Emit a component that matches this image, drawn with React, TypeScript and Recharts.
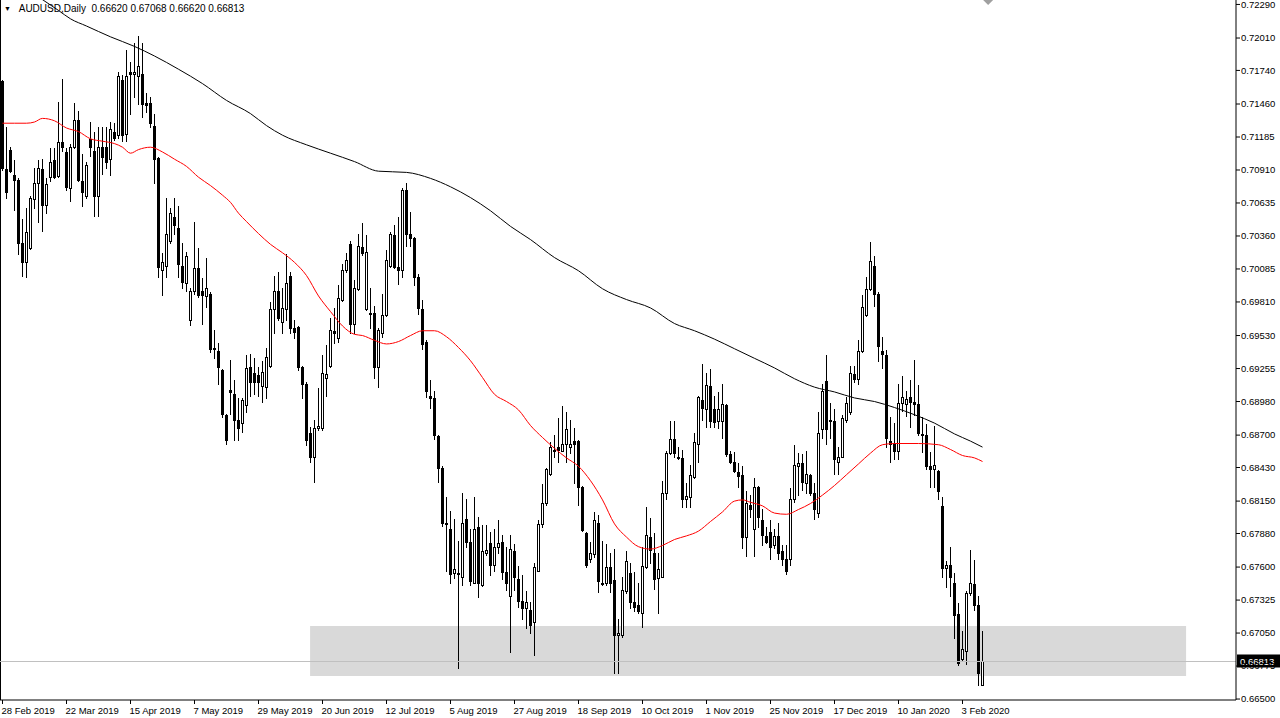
import React from 'react';
import { ComposedChart, Bar, Line, XAxis, YAxis, ReferenceArea, ReferenceLine, ReferenceDot } from 'recharts';

type Ohlc = [number, number, number, number]; // open, high, low, close

// daily AUDUSD bars, 28 Feb 2019 onwards
const barsPart1: Ohlc[] = [
  [0.7165, 0.7166, 0.7091, 0.7093], [0.7092, 0.7127, 0.7068, 0.7073], [0.7108, 0.711, 0.7089, 0.709], [0.7087, 0.7099, 0.7058, 0.7083],
  [0.7083, 0.7084, 0.7021, 0.703], [0.703, 0.705, 0.7003, 0.7014], [0.7014, 0.7059, 0.7002, 0.7039], [0.7026, 0.7069, 0.7025, 0.7068],
  [0.7067, 0.7093, 0.7059, 0.708], [0.708, 0.7099, 0.7048, 0.7093], [0.7092, 0.71, 0.704, 0.7062], [0.7062, 0.7084, 0.7055, 0.7079],
  [0.7085, 0.7109, 0.7082, 0.7098], [0.7099, 0.7109, 0.7084, 0.7085], [0.7086, 0.7148, 0.7085, 0.7114], [0.7114, 0.7167, 0.7107, 0.711],
  [0.7106, 0.7109, 0.7074, 0.7077], [0.7076, 0.7113, 0.7065, 0.711], [0.711, 0.7147, 0.7109, 0.7133], [0.7133, 0.714, 0.7082, 0.7083],
  [0.7082, 0.7104, 0.7061, 0.7073], [0.7069, 0.7098, 0.7068, 0.7095], [0.7117, 0.7131, 0.7103, 0.711], [0.7107, 0.7123, 0.7053, 0.7069],
  [0.7069, 0.7127, 0.7053, 0.711], [0.711, 0.7127, 0.7088, 0.7102], [0.711, 0.7127, 0.7093, 0.7098], [0.71, 0.7131, 0.7087, 0.7125],
  [0.7123, 0.713, 0.7116, 0.7118], [0.712, 0.7173, 0.7118, 0.7169], [0.7166, 0.717, 0.7115, 0.712], [0.7121, 0.7191, 0.7115, 0.7169],
  [0.7173, 0.7181, 0.7138, 0.7171], [0.7171, 0.7197, 0.7152, 0.7173], [0.7169, 0.7203, 0.7146, 0.7178], [0.7171, 0.7197, 0.7135, 0.7146],
  [0.7147, 0.7155, 0.7139, 0.7145], [0.7147, 0.7152, 0.7127, 0.713], [0.7128, 0.7138, 0.708, 0.71], [0.7101, 0.7102, 0.7002, 0.701],
  [0.7008, 0.7022, 0.6987, 0.7014], [0.7011, 0.7068, 0.7002, 0.7038], [0.7032, 0.7059, 0.703, 0.7055], [0.7052, 0.7068, 0.7038, 0.7045],
  [0.7043, 0.7061, 0.7002, 0.7013], [0.7011, 0.703, 0.6993, 0.6998], [0.6997, 0.7023, 0.699, 0.7019], [0.6966, 0.6993, 0.6962, 0.699],
  [0.699, 0.7048, 0.6988, 0.7009], [0.7009, 0.7026, 0.6985, 0.6987], [0.699, 0.7001, 0.6963, 0.6987], [0.6986, 0.7018, 0.6977, 0.6993],
  [0.6988, 0.6989, 0.6939, 0.6942], [0.6943, 0.6958, 0.6934, 0.6942], [0.694, 0.6947, 0.6913, 0.6927], [0.6924, 0.6925, 0.6885, 0.6888],
  [0.6887, 0.6888, 0.6863, 0.6866], [0.6908, 0.6933, 0.6888, 0.6906], [0.6904, 0.6916, 0.6866, 0.6883], [0.6883, 0.6901, 0.6866, 0.6876],
  [0.688, 0.6901, 0.6873, 0.6899], [0.6895, 0.6937, 0.6889, 0.6926],
];

const barsPart2: Ohlc[] = [
  [0.6927, 0.6938, 0.6903, 0.6914], [0.6922, 0.6934, 0.6904, 0.6914], [0.692, 0.6927, 0.6903, 0.6914], [0.6911, 0.6932, 0.6898, 0.6923],
  [0.691, 0.6943, 0.6901, 0.6935], [0.6928, 0.6981, 0.6927, 0.6975], [0.6975, 0.7003, 0.6955, 0.699], [0.699, 0.7006, 0.6966, 0.6968],
  [0.6964, 0.6993, 0.6955, 0.6976], [0.6975, 0.7021, 0.6966, 0.6997], [0.7003, 0.7006, 0.6955, 0.6959], [0.6959, 0.6966, 0.6951, 0.6956],
  [0.696, 0.6961, 0.6924, 0.6927], [0.6927, 0.6928, 0.6901, 0.6913], [0.6913, 0.6914, 0.6862, 0.6866], [0.6872, 0.6877, 0.6848, 0.6852],
  [0.6852, 0.6883, 0.6831, 0.6876], [0.6876, 0.6909, 0.6874, 0.6878], [0.6876, 0.6937, 0.6874, 0.6922], [0.6918, 0.6945, 0.6903, 0.6921],
  [0.6928, 0.6968, 0.6927, 0.6958], [0.6957, 0.6976, 0.6947, 0.6955], [0.6951, 0.6995, 0.6948, 0.6984], [0.6983, 0.7013, 0.6982, 0.7008],
  [0.7008, 0.7022, 0.7006, 0.7016], [0.7029, 0.7032, 0.6955, 0.6963], [0.6963, 0.6999, 0.6955, 0.6993], [0.6992, 0.7038, 0.6991, 0.7028],
  [0.7027, 0.7047, 0.702, 0.7022], [0.6975, 0.7037, 0.6974, 0.7023], [0.6972, 0.6993, 0.6959, 0.6971], [0.6972, 0.6978, 0.6918, 0.6927],
  [0.6927, 0.6959, 0.691, 0.6958], [0.6955, 0.6988, 0.6952, 0.697], [0.697, 0.7024, 0.6969, 0.7016], [0.7011, 0.7039, 0.701, 0.7038],
  [0.7037, 0.7045, 0.7009, 0.701], [0.701, 0.7052, 0.6996, 0.7008], [0.7008, 0.7076, 0.7002, 0.7074], [0.7074, 0.708, 0.7028, 0.7038],
  [0.7038, 0.7056, 0.7028, 0.7034], [0.7034, 0.7035, 0.6995, 0.7002], [0.7002, 0.7004, 0.6971, 0.6976], [0.6975, 0.6983, 0.6942, 0.6946],
  [0.6948, 0.6949, 0.6902, 0.6907], [0.6903, 0.6916, 0.6893, 0.6901], [0.6901, 0.6907, 0.6867, 0.687], [0.6869, 0.687, 0.6831, 0.6843],
  [0.6843, 0.6844, 0.6794, 0.6797], [0.6797, 0.6818, 0.6757, 0.6796], [0.6792, 0.6807, 0.6747, 0.6754], [0.6755, 0.68, 0.6751, 0.6758],
  [0.6755, 0.6782, 0.6676, 0.6754], [0.6752, 0.6822, 0.6745, 0.6797], [0.68, 0.6817, 0.6777, 0.6781], [0.6781, 0.6792, 0.6745, 0.6748],
  [0.6747, 0.6818, 0.6747, 0.6792], [0.6793, 0.6802, 0.6735, 0.6747], [0.6745, 0.6795, 0.6744, 0.6773], [0.6772, 0.6795, 0.677, 0.6774],
  [0.678, 0.6789, 0.6753, 0.6762], [0.6762, 0.6792, 0.6757, 0.6777],
];

const barsPart3: Ohlc[] = [
  [0.6777, 0.6799, 0.6772, 0.678], [0.6781, 0.6787, 0.675, 0.6756], [0.6756, 0.6777, 0.6741, 0.6747], [0.6736, 0.6787, 0.6689, 0.6775],
  [0.6773, 0.6779, 0.6741, 0.6752], [0.675, 0.6761, 0.6727, 0.6732], [0.6732, 0.6753, 0.6717, 0.6726], [0.6726, 0.674, 0.6709, 0.6731],
  [0.6724, 0.6731, 0.6705, 0.6712], [0.6714, 0.6763, 0.6687, 0.676], [0.6757, 0.6799, 0.6757, 0.6796], [0.6796, 0.6829, 0.6793, 0.6813],
  [0.6813, 0.6843, 0.6812, 0.6842], [0.6838, 0.6864, 0.6837, 0.686], [0.6857, 0.687, 0.6852, 0.6858], [0.686, 0.6884, 0.6848, 0.6858],
  [0.6857, 0.6894, 0.6857, 0.6863], [0.6863, 0.6889, 0.6848, 0.6875], [0.686, 0.6883, 0.6855, 0.6863], [0.6865, 0.6876, 0.683, 0.6863],
  [0.6865, 0.6866, 0.6812, 0.6827], [0.6827, 0.6828, 0.679, 0.6791], [0.6788, 0.6789, 0.676, 0.6762], [0.6767, 0.6781, 0.6764, 0.6772],
  [0.6771, 0.6806, 0.6768, 0.6799], [0.6797, 0.6803, 0.6739, 0.6748], [0.6747, 0.6782, 0.6745, 0.6746], [0.6747, 0.6779, 0.6745, 0.676],
  [0.676, 0.6772, 0.6739, 0.6747], [0.6749, 0.6775, 0.6672, 0.6703], [0.6703, 0.6717, 0.6672, 0.6705], [0.6703, 0.6752, 0.6702, 0.6741],
  [0.674, 0.6773, 0.6738, 0.6765], [0.6755, 0.6763, 0.6726, 0.6731], [0.6731, 0.6756, 0.6723, 0.6727], [0.6728, 0.6747, 0.6722, 0.6723],
  [0.6722, 0.6777, 0.671, 0.6761], [0.676, 0.681, 0.6759, 0.6787], [0.6785, 0.6801, 0.6763, 0.6774], [0.6772, 0.6788, 0.6742, 0.675],
  [0.6751, 0.6772, 0.6722, 0.6758], [0.6752, 0.6832, 0.6752, 0.6822], [0.6822, 0.6857, 0.6817, 0.6855], [0.6855, 0.6882, 0.6854, 0.6867],
  [0.6867, 0.6882, 0.6852, 0.6855], [0.6852, 0.686, 0.685, 0.6851], [0.6851, 0.6858, 0.681, 0.6817], [0.6817, 0.683, 0.681, 0.6819],
  [0.6818, 0.6845, 0.681, 0.6837], [0.6835, 0.6872, 0.6834, 0.6864], [0.6863, 0.6903, 0.6848, 0.6902], [0.6899, 0.6929, 0.6883, 0.6893],
  [0.6892, 0.6922, 0.6877, 0.6912], [0.6911, 0.6925, 0.6877, 0.6882], [0.6892, 0.6903, 0.6877, 0.6881], [0.6882, 0.6906, 0.6876, 0.6892],
  [0.6882, 0.6913, 0.6868, 0.6896], [0.6895, 0.6896, 0.6853, 0.6854], [0.6854, 0.6857, 0.6847, 0.6848], [0.6848, 0.6856, 0.6839, 0.684],
  [0.6839, 0.6847, 0.6827, 0.6836], [0.6837, 0.6844, 0.6776, 0.6785],
];

const barsPart4: Ohlc[] = [
  [0.6785, 0.6823, 0.6769, 0.6813], [0.6812, 0.682, 0.6802, 0.6808], [0.6792, 0.6834, 0.6769, 0.6827], [0.6827, 0.6828, 0.6793, 0.6802],
  [0.6799, 0.6808, 0.6778, 0.6787], [0.6786, 0.6793, 0.678, 0.6781], [0.6789, 0.6799, 0.6767, 0.6777], [0.6778, 0.6792, 0.6776, 0.6786],
  [0.6786, 0.6797, 0.6767, 0.6772], [0.6773, 0.6778, 0.6762, 0.6767], [0.6767, 0.6778, 0.6754, 0.6757], [0.6767, 0.6826, 0.6762, 0.6817],
  [0.6817, 0.6862, 0.6814, 0.6845], [0.6844, 0.6855, 0.682, 0.6847], [0.6847, 0.6854, 0.6824, 0.6831], [0.683, 0.6857, 0.6822, 0.6838],
  [0.6837, 0.6838, 0.682, 0.6822], [0.6822, 0.683, 0.68, 0.6808], [0.6805, 0.6889, 0.6802, 0.6872], [0.6875, 0.6913, 0.6868, 0.6907],
  [0.6915, 0.6937, 0.6863, 0.6875], [0.6883, 0.6897, 0.6868, 0.6882], [0.6882, 0.6892, 0.6838, 0.685], [0.6848, 0.686, 0.6838, 0.6852],
  [0.6852, 0.6887, 0.6852, 0.6884], [0.6883, 0.6902, 0.6881, 0.6897], [0.6889, 0.6928, 0.6888, 0.6922], [0.6921, 0.6928, 0.6914, 0.6917],
  [0.6917, 0.6949, 0.6913, 0.694], [0.694, 0.6987, 0.6939, 0.6977], [0.697, 0.7002, 0.6969, 0.6992], [0.6992, 0.7031, 0.6991, 0.7015],
  [0.7011, 0.7019, 0.6978, 0.6988], [0.6988, 0.6989, 0.6932, 0.6944], [0.694, 0.6952, 0.6926, 0.6938], [0.6937, 0.6941, 0.686, 0.6868],
  [0.6865, 0.6885, 0.6848, 0.6863], [0.6863, 0.688, 0.685, 0.6857], [0.6857, 0.6913, 0.685, 0.6897], [0.6897, 0.6919, 0.689, 0.6902],
  [0.6896, 0.6907, 0.6886, 0.69], [0.6902, 0.6916, 0.6877, 0.6898], [0.6898, 0.6933, 0.6887, 0.6896], [0.6896, 0.6912, 0.687, 0.6872],
  [0.6871, 0.6885, 0.6856, 0.687], [0.687, 0.6879, 0.6842, 0.6844], [0.6844, 0.6856, 0.6827, 0.6842], [0.6842, 0.6878, 0.6827, 0.6845],
  [0.684, 0.6841, 0.6817, 0.6823], [0.6811, 0.6818, 0.6752, 0.6759], [0.6759, 0.6765, 0.6743, 0.6762], [0.6762, 0.6777, 0.6736, 0.6752],
  [0.6747, 0.6755, 0.6701, 0.672], [0.6721, 0.673, 0.6678, 0.668], [0.6683, 0.6707, 0.6682, 0.6692], [0.669, 0.674, 0.6679, 0.6738],
  [0.6738, 0.6774, 0.6737, 0.6747], [0.6746, 0.6766, 0.6724, 0.6728], [0.6728, 0.6736, 0.6662, 0.6672], [0.6662, 0.67068, 0.6662, 0.66813],
];

// moving averages: [bar index, value]
const maRed: [number, number][] = [
  [0, 0.713], [3, 0.713], [6, 0.713], [8, 0.7131], [10, 0.7134], [13, 0.7132], [16, 0.7126], [19, 0.7123], [22, 0.7117],
  [25, 0.7115], [28, 0.7113], [30, 0.711], [32, 0.7105], [34, 0.7108], [37, 0.711], [40, 0.7106], [43, 0.71], [46, 0.7094],
  [49, 0.7085], [52, 0.7078], [55, 0.707], [57, 0.7064], [59, 0.7055], [61, 0.7048], [64, 0.7038], [67, 0.7029], [70, 0.7022],
  [73, 0.7014], [76, 0.7003], [79, 0.6986], [82, 0.6973], [85, 0.6961], [88, 0.6954], [90, 0.6953], [93, 0.6949], [96, 0.6946],
  [99, 0.6948], [102, 0.6953], [105, 0.6957], [108, 0.6957], [111, 0.6952], [114, 0.6943], [117, 0.6932], [120, 0.6918],
  [123, 0.6904], [126, 0.6898], [129, 0.6891], [132, 0.6878], [135, 0.6868], [138, 0.6859], [141, 0.6851], [144, 0.6844],
  [147, 0.6832], [150, 0.6816], [153, 0.6796], [156, 0.6785], [159, 0.6777], [162, 0.6775], [165, 0.6778], [168, 0.6783],
  [171, 0.6786], [174, 0.679], [177, 0.6798], [180, 0.6806], [183, 0.6815], [185, 0.6816], [187, 0.6814], [190, 0.6811],
  [193, 0.6805], [196, 0.6804], [199, 0.6808], [202, 0.6813], [205, 0.682], [208, 0.6828], [211, 0.6837], [214, 0.6846],
  [217, 0.6855], [220, 0.6862], [223, 0.6863], [229, 0.6863], [234, 0.6862], [237, 0.6858], [240, 0.6853], [243, 0.6851],
  [245, 0.6848],
];

const maBlack: [number, number][] = [
  [0, 0.7257], [10, 0.7233], [14, 0.7224], [17, 0.7217], [21, 0.7211], [27, 0.7202], [33, 0.7194], [38, 0.7186], [44, 0.7175],
  [50, 0.7163], [56, 0.7149], [62, 0.7138], [66, 0.7128], [70, 0.712], [76, 0.7112], [82, 0.7105], [88, 0.7098], [94, 0.709],
  [101, 0.7089], [107, 0.7084], [112, 0.7077], [117, 0.7068], [122, 0.7057], [127, 0.7044], [132, 0.7033], [138, 0.7018],
  [144, 0.7007], [150, 0.6992], [156, 0.6983], [162, 0.6976], [168, 0.6963], [173, 0.6957], [178, 0.695], [183, 0.6942],
  [188, 0.6934], [193, 0.6926], [198, 0.6917], [203, 0.691], [208, 0.6906], [213, 0.6901], [218, 0.6898], [223, 0.6893],
  [228, 0.6887], [233, 0.688], [238, 0.6871], [242, 0.6865], [245, 0.686],
];

const dateLabels = [
  '28 Feb 2019', '22 Mar 2019', '15 Apr 2019', '7 May 2019', '29 May 2019', '20 Jun 2019', '12 Jul 2019', '5 Aug 2019',
  '27 Aug 2019', '18 Sep 2019', '10 Oct 2019', '1 Nov 2019', '25 Nov 2019', '17 Dec 2019', '10 Jan 2020', '3 Feb 2020',
];
const dateTickBars = dateLabels.map((_, k) => k * 16);

const priceTicks = [
  0.7229, 0.7201, 0.7174, 0.7146, 0.71185, 0.7091, 0.70635, 0.7036, 0.70085, 0.6981, 0.6953,
  0.69255, 0.6898, 0.687, 0.6843, 0.6815, 0.6788, 0.676, 0.67325, 0.6705, 0.66775, 0.665,
];

// support zone rectangle
const zone = { fromBar: 76.9, toBar: 295.9, low: 0.66692, high: 0.67109 };

const allBars = [...barsPart1, ...barsPart2, ...barsPart3, ...barsPart4];
const redByBar = new Map(maRed);
const blackByBar = new Map(maBlack);
const data = allBars.map(([o, h, l, c], i) => ({
  i, o, h, l, c,
  ma50: redByBar.has(i) ? redByBar.get(i) : null,
  ma200: blackByBar.has(i) ? blackByBar.get(i) : null,
}));
const last = allBars[allBars.length - 1];

const W = 1280;
const H = 718;
const X_DOMAIN: [number, number] = [-0.625, 308.375];
const Y_DOMAIN: [number, number] = [0.66492, 0.72327];
const FONT = '"Liberation Sans", Arial, sans-serif';

function Candle(props: any) {
  const { x, y, width, height, payload } = props;
  const { o, h, l, c } = payload;
  const top = Math.min(y, y + height);
  const span = Math.abs(height);
  const k = h === l ? 0 : span / (h - l);
  const py = (p: number) => Math.round(top + (h - p) * k);
  const cx = Math.floor(x + width / 2) + 0.5;
  const yHi = py(h);
  const yLo = py(l);
  const bTop = py(Math.max(o, c));
  const bBot = py(Math.min(o, c));
  const up = c > o;
  return (
    <g>
      <line x1={cx} x2={cx} y1={yHi} y2={yLo + 1} stroke="#000" strokeWidth={1} />
      {up ? (
        <rect x={cx - 1} y={bTop + 0.5} width={2} height={Math.max(1, bBot - bTop)} fill="#fff" stroke="#000" strokeWidth={1} />
      ) : (
        <rect x={cx - 1.5} y={bTop} width={3} height={Math.max(1, bBot - bTop + 1)} fill="#000" />
      )}
    </g>
  );
}

function DateTick(props: any) {
  const { x, y, payload } = props;
  const idx = dateTickBars.indexOf(payload.value);
  return (
    <text x={x - 1} y={y + 8} fontSize={9.5} fontFamily={FONT} fill="#000" textAnchor="start">
      {dateLabels[idx]}
    </text>
  );
}

function PriceTag(props: any) {
  const vb = props.viewBox || {};
  const x = (vb.x || 0) + (vb.width || 0) + 1;
  const y = vb.y || 0;
  return (
    <g>
      <rect x={x} y={y - 7} width={44} height={13} fill="#000" />
      <text x={x + 3} y={y + 3.5} fontSize={9.5} fontFamily={FONT} fill="#fff">
        {last[3].toFixed(5)}
      </text>
    </g>
  );
}

function ShiftMarker(props: any) {
  const { cx } = props;
  return <polygon points={`${cx - 5},0 ${cx + 5},0 ${cx},5`} fill="#a0a0a0" />;
}

export default function App() {
  return (
    <div style={{ position: 'absolute', left: 0, top: 0, width: W, height: H, background: '#fff' }}>
      <ComposedChart width={W} height={H} data={data} margin={{ top: 0, right: 0, bottom: 0, left: 0 }}>
        <XAxis
          dataKey="i"
          type="number"
          domain={X_DOMAIN}
          allowDataOverflow
          ticks={dateTickBars}
          interval={0}
          tick={<DateTick />}
          tickSize={4}
          tickLine={{ stroke: '#000' }}
          axisLine={{ stroke: '#000' }}
          height={18}
        />
        <YAxis
          orientation="right"
          type="number"
          domain={Y_DOMAIN}
          allowDataOverflow
          ticks={priceTicks}
          interval={0}
          tickFormatter={(v: number) => v.toFixed(5)}
          tick={{ fontSize: 9.5, fontFamily: FONT, fill: '#000' }}
          tickSize={4}
          tickMargin={1}
          tickLine={{ stroke: '#000' }}
          axisLine={{ stroke: '#000' }}
          width={44}
        />
        <ReferenceArea x1={zone.fromBar} x2={zone.toBar} y1={zone.low} y2={zone.high} fill="#d9d9d9" fillOpacity={1} stroke="none" />
        <ReferenceLine x={X_DOMAIN[0] + 0.125} stroke="#000" strokeWidth={1} />
        <ReferenceLine y={last[3]} stroke="#c0c0c0" strokeWidth={1} label={<PriceTag />} />
        <Bar dataKey={(d: any) => [d.l, d.h]} barSize={3} shape={<Candle />} activeBar={false} isAnimationActive={false} />
        <Line dataKey="ma50" type="monotone" stroke="#ff0000" strokeWidth={1} dot={false} activeDot={false} connectNulls isAnimationActive={false} />
        <Line dataKey="ma200" type="monotone" stroke="#000" strokeWidth={1} dot={false} activeDot={false} connectNulls isAnimationActive={false} />
        <ReferenceDot x={246.4} y={Y_DOMAIN[1]} r={5} shape={<ShiftMarker />} ifOverflow="visible" />
      </ComposedChart>
      <div style={{ position: 'absolute', left: 4, top: 3, fontFamily: FONT, fontSize: 10, lineHeight: '12px', whiteSpace: 'pre', color: '#000' }}>
        <span style={{ fontSize: 7, verticalAlign: 'top' }}>▼</span>
        {`   AUDUSD,Daily  ${last[0].toFixed(5)} ${last[1].toFixed(5)} ${last[2].toFixed(5)} ${last[3].toFixed(5)}`}
      </div>
    </div>
  );
}
